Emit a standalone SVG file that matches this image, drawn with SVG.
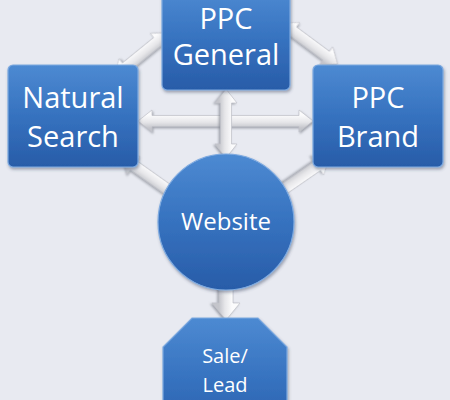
<svg xmlns="http://www.w3.org/2000/svg" width="450" height="400" viewBox="0 0 450 400">
<defs>
<linearGradient id="blue" x1="0" y1="0" x2="0" y2="1">
<stop offset="0" stop-color="#4d8ad2"/>
<stop offset="0.5" stop-color="#3672bf"/>
<stop offset="1" stop-color="#285ca8"/>
</linearGradient>
<linearGradient id="grey" gradientUnits="userSpaceOnUse" x1="0" y1="-6" x2="0" y2="7">
<stop offset="0" stop-color="#fbfbfc"/>
<stop offset="0.55" stop-color="#e6e6e9"/>
<stop offset="1" stop-color="#c4c5cb"/>
</linearGradient>
<filter id="sh" x="-20%" y="-20%" width="140%" height="140%">
<feDropShadow dx="1" dy="2" stdDeviation="1.5" flood-color="#3a4660" flood-opacity="0.45"/>
</filter>
<filter id="ash" x="-20%" y="-40%" width="140%" height="180%">
<feDropShadow dx="1" dy="1.5" stdDeviation="1" flood-color="#80838e" flood-opacity="0.7"/>
</filter>
<style>
.node{fill:url(#blue);stroke:#7eaae0;stroke-width:1.2;filter:url(#sh)}
.lbl{font-family:"Open Sans","Noto Sans",sans-serif;fill:#ffffff;text-anchor:middle}
.big{font-size:29px}
.mid{font-size:24px}
.sm{font-size:20px}
.arr{fill:url(#grey);stroke:#c0c2c9;stroke-width:0.7;filter:url(#ash)}
</style>
</defs>
<rect width="450" height="400" fill="#e8eaf1"/>
<g id="connectors">
<polygon class="arr" transform="translate(115,76) rotate(-39.1)" points="0,0 14,-11 14,-5.5 54.2,-5.5 54.2,-11 68.2,0 54.2,11 54.2,5.5 14,5.5 14,11"/>
<polygon class="arr" transform="translate(282,23) rotate(36.5)" points="0,0 14,-11 14,-5.5 55,-5.5 55,-11 69,0 55,11 55,5.5 14,5.5 14,11"/>
<polygon class="arr" transform="translate(138,121)" points="0,0 14,-11 14,-5.5 161,-5.5 161,-11 175,0 161,11 161,5.5 14,5.5 14,11"/>
<polygon class="arr" transform="translate(226,89) rotate(90)" points="0,0 14,-11 14,-5.5 55,-5.5 55,-11 69,0 55,11 55,5.5 14,5.5 14,11"/>
<polygon class="arr" transform="translate(122,157) rotate(35.3)" points="0,0 14,-11 14,-5.5 57,-5.5 57,-11 71,0 57,11 57,5.5 14,5.5 14,11"/>
<polygon class="arr" transform="translate(329,158) rotate(145.4)" points="0,0 14,-11 14,-5.5 56.5,-5.5 56.5,-11 70.5,0 56.5,11 56.5,5.5 14,5.5 14,11"/>
<polygon class="arr" transform="translate(226,265) rotate(90)" points="0,-7 38,-7 38,-14 55,0 38,14 38,7 0,7"/>
</g>
<g id="ppc-general">
<rect class="node" x="162" y="-10" width="128" height="100" rx="5"/>
<text class="lbl big" x="226" y="29">PPC</text>
<text class="lbl big" x="226" y="65">General</text>
</g>
<g id="natural-search">
<rect class="node" x="8" y="65" width="130" height="102" rx="5"/>
<text class="lbl big" x="73" y="108">Natural</text>
<text class="lbl big" x="73" y="147">Search</text>
</g>
<g id="ppc-brand">
<rect class="node" x="313" y="65" width="130" height="102" rx="5"/>
<text class="lbl big" x="378" y="108">PPC</text>
<text class="lbl big" x="378" y="147">Brand</text>
</g>
<g id="website">
<circle class="node" cx="226" cy="222" r="68"/>
<text class="lbl mid" x="226" y="230">Website</text>
</g>
<g id="sale-lead">
<polygon class="node" points="192,318 258,318 287,347 287,413 258,442 192,442 163,413 163,347"/>
<text class="lbl sm" x="225" y="363">Sale/</text>
<text class="lbl sm" x="225" y="392">Lead</text>
</g>
</svg>
